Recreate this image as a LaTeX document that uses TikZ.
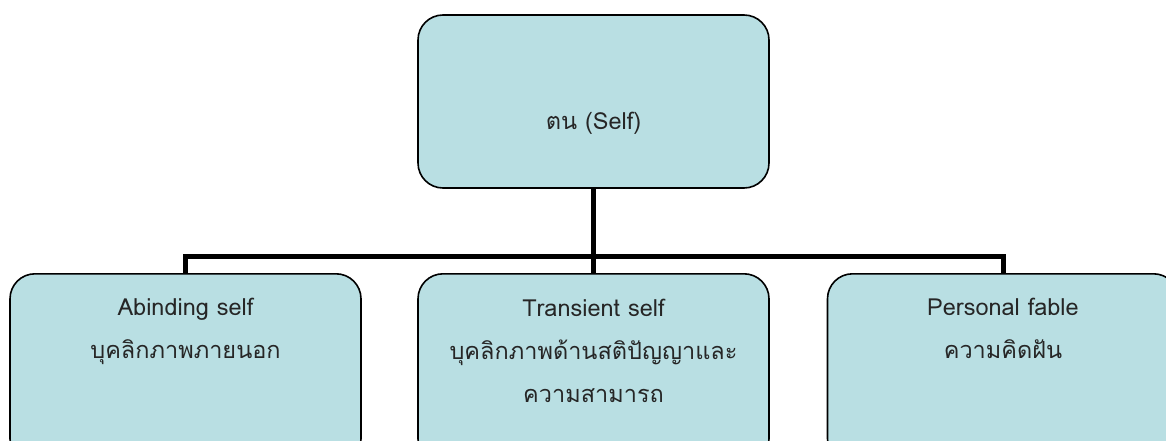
\documentclass[tikz,border=0pt]{standalone}
\usepackage{fontspec}
\newfontfamily\thaifont[Script=Thai]{Loma}
\definecolor{boxfill}{RGB}{185,223,227}
\tikzset{
  box/.style={draw=black, line width=1.6pt, fill=boxfill, rounded corners=25pt,
    minimum width=351pt, minimum height=173pt, inner sep=0pt},
  lowbox/.style={box, minimum height=190pt, anchor=north},
  txt/.style={font=\thaifont\fontsize{23.5}{43}\selectfont, align=center, text=black!85, inner sep=0pt, anchor=base},
  conn/.style={line width=5pt, draw=black}
}
\begin{document}
\begin{tikzpicture}[x=1pt, y=-1pt]
\useasboundingbox (0,0) rectangle (1166,441);
\clip (0,0) rectangle (1166,441);
\node[box] (top) at (593.5,101.5) {};
\node[lowbox] (left) at (185.5,273) {};
\node[lowbox] (mid) at (593.5,273) {};
\node[lowbox] (right) at (1003,273) {};
\node[txt] (ttop) at (593.5,129) {ตน (Self)};
\node[txt] (tleft) at (185.5,358) {Abinding self\\บุคลิกภาพภายนอก};
\node[txt] (tmid) at (593.5,402) {Transient self\\บุคลิกภาพด้านสติปัญญาและ\\ความสามารถ};
\node[txt] (tright) at (1003,358) {Personal fable\\ความคิดฝัน};
\coordinate (j) at (593.5,256);
\draw[conn] (top.south) -- (j);
\draw[conn] (left.north) |- (j) -| (right.north);
\draw[conn] (j) -- (mid.north);
\end{tikzpicture}
\end{document}
